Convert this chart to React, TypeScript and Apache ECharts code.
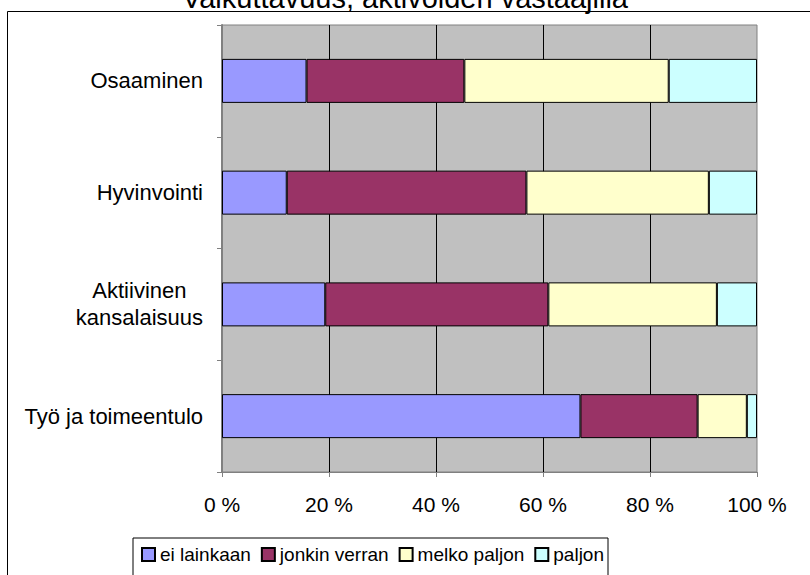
import React, { useEffect, useRef } from 'react';
import * as echarts from 'echarts';

const titleText = 'Vaikuttavuus, aktivoiden vastaajilla';
const categories = ['Osaaminen', 'Hyvinvointi', 'Aktiivinen\nkansalaisuus', 'Työ ja toimeentulo'];
const seriesNames = ['ei lainkaan', 'jonkin verran', 'melko paljon', 'paljon'];
const eiLainkaan = [15.8, 12.1, 19.3, 67.0];
const jonkinVerran = [29.5, 44.8, 41.7, 21.9];
const melkoPaljon = [38.2, 34.1, 31.5, 9.2];
const paljon = [16.5, 9.0, 7.5, 1.9];
const seriesColors = ['#9999FF', '#993366', '#FFFFCC', '#CCFFFF'];

const FONT = '"Liberation Sans", Arial, sans-serif';

export default function App() {
  const ref = useRef<HTMLDivElement>(null);
  useEffect(() => {
    if (!ref.current) return;
    const chart = echarts.init(ref.current, undefined, { renderer: 'svg' });
    const values = [eiLainkaan, jonkinVerran, melkoPaljon, paljon];
    chart.setOption({
      animation: false,
      backgroundColor: '#ffffff',
      title: {
        text: titleText,
        left: 'center',
        top: -22,
        textStyle: { fontSize: 29, fontWeight: 'normal', fontFamily: FONT, color: '#000' },
      },
      graphic: [
        {
          type: 'rect',
          z: -10,
          shape: { x: 7.5, y: 11.5, width: 900, height: 700 },
          style: { fill: 'none', stroke: '#000', lineWidth: 1 },
        },
      ],
      legend: {
        left: 133,
        top: 538,
        orient: 'horizontal',
        icon: 'rect',
        itemWidth: 13,
        itemHeight: 13,
        itemGap: 10,
        padding: [7, 4, 40, 8],
        borderColor: '#000',
        borderWidth: 1,
        backgroundColor: '#fff',
        textStyle: { fontSize: 19, color: '#000', fontFamily: FONT },
        data: seriesNames,
      },
      grid: {
        left: 222,
        right: 53,
        top: 25,
        bottom: 103,
        show: true,
        backgroundColor: '#C0C0C0',
        borderColor: '#808080',
        borderWidth: 1,
        containLabel: false,
      },
      xAxis: {
        type: 'value',
        min: 0,
        max: 100,
        interval: 20,
        axisLine: { show: true, lineStyle: { color: '#808080', width: 1 } },
        axisTick: { show: true, length: 5, lineStyle: { color: '#808080' } },
        axisLabel: {
          formatter: '{value} %',
          fontSize: 21,
          color: '#000',
          fontFamily: FONT,
          margin: 22,
        },
        splitLine: {
          show: true,
          showMinLine: false,
          showMaxLine: false,
          lineStyle: { color: '#000', width: 1 },
        },
      },
      yAxis: {
        type: 'category',
        inverse: true,
        data: categories,
        axisLine: { show: true, lineStyle: { color: '#808080', width: 2 } },
        axisTick: { show: true, length: 5, inside: false, lineStyle: { color: '#808080' } },
        axisLabel: {
          margin: 19,
          fontSize: 22,
          color: '#000',
          fontFamily: FONT,
          formatter: (v: string) =>
            v
              .split('\n')
              .map((l) => `{c|${l}}`)
              .join('\n'),
          rich: {
            c: { align: 'center', fontSize: 22, color: '#000', fontFamily: FONT, lineHeight: 27 },
          },
        },
      },
      series: seriesNames.map((name, i) => ({
        name,
        type: 'bar',
        stack: 'total',
        barWidth: 44,
        data: values[i],
        itemStyle: { color: seriesColors[i], borderColor: '#000', borderWidth: 1 },
      })),
    });
    return () => chart.dispose();
  }, []);
  return (
    <div
      ref={ref}
      style={{ position: 'fixed', left: 0, top: 0, width: 810, height: 575 }}
    />
  );
}
